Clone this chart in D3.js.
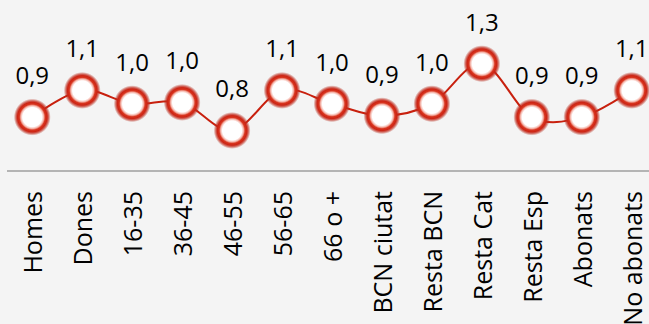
<!DOCTYPE html>
<html><head><meta charset="utf-8">
<script src="https://cdn.jsdelivr.net/npm/d3@7"></script>
<style>html,body{margin:0;padding:0;background:#f4f4f4;}svg{display:block;}</style>
</head><body>
<script>
const categories = ["Homes","Dones","16-35","36-45","46-55","56-65","66 o +","BCN ciutat","Resta BCN","Resta Cat","Resta Esp","Abonats","No abonats"];
const values = [0.90,1.10,1.00,1.01,0.80,1.10,1.00,0.91,1.00,1.30,0.90,0.90,1.10];
const yDomain = [0.5, 1.5];

const W = 649, H = 324;
const svg = d3.select("body").append("svg").attr("width", W).attr("height", H);
svg.append("rect").attr("width", W).attr("height", H).attr("fill", "#f4f4f4");

const defs = svg.append("defs");
const g = defs.append("radialGradient").attr("id","mk");
[[0,"#ffffff",1],[0.52,"#ffffff",1],[0.62,"#f4b3a8",1],[0.70,"#d8351f",1],[0.80,"#cc2414",1],[0.88,"#c22a1c",0.7],[1,"#b03020",0]]
  .forEach(([o,c,a]) => g.append("stop").attr("offset", o).attr("stop-color", c).attr("stop-opacity", a));

const x = d3.scaleBand().domain(categories).range([7.3, 656.7]).padding(0);
const y = d3.scaleLinear().domain(yDomain).range([170.5, 37]);
const cx = d => x(d) + x.bandwidth()/2;

// axis
const ax = svg.append("g").attr("transform", "translate(0,171)")
  .call(d3.axisBottom(x).tickSize(0).tickFormat(d => d));
ax.select(".domain").attr("d", "M7,0H649").attr("stroke", "#b4b4b4").attr("stroke-width", 2);
ax.selectAll(".tick text")
  .attr("transform", "rotate(-90)")
  .attr("text-anchor", "end")
  .attr("x", -20).attr("y", 0).attr("dy", "0.4em")
  .attr("font-family", "'Open Sans', sans-serif").attr("font-size", 25).attr("fill", "#000");

// line
const data = categories.map((c, i) => ({c, v: values[i]}));
svg.append("path").datum(data)
  .attr("d", d3.line().x(d => cx(d.c)).y(d => y(d.v)).curve(d3.curveCatmullRom.alpha(0)))
  .attr("fill", "none").attr("stroke", "#c8200e").attr("stroke-width", 2);

// markers
svg.selectAll("circle.mk").data(data).join("circle").attr("class","mk")
  .attr("cx", d => cx(d.c)).attr("cy", d => y(d.v)).attr("r", 18.5)
  .attr("fill", "url(#mk)");

// labels
const fmt = v => d3.format(".1f")(v).replace(".", ",");
svg.selectAll("text.lbl").data(data).join("text").attr("class","lbl")
  .attr("x", d => cx(d.c)).attr("y", d => y(d.v) - 33)
  .attr("text-anchor", "middle")
  .attr("font-family", "'Open Sans', sans-serif").attr("font-size", 24).attr("fill", "#000")
  .text(d => fmt(d.v));
</script>
</body></html>
